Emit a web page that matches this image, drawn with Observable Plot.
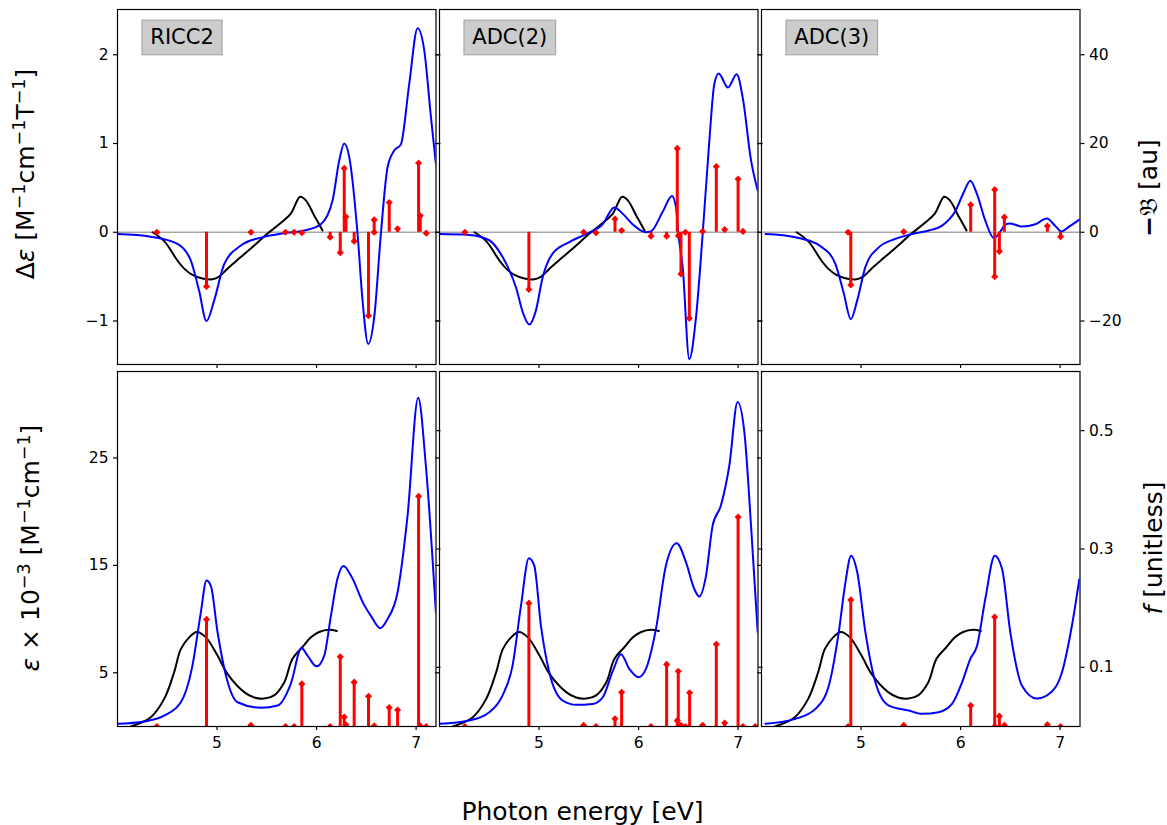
<!DOCTYPE html>
<html><head><meta charset="utf-8">
<script src="https://cdn.jsdelivr.net/npm/d3@7"></script>
<script src="https://cdn.jsdelivr.net/npm/@observablehq/plot@0.6"></script>
<style>
html,body{margin:0;padding:0;background:#fff;}
#fig{position:relative;width:1167px;height:825px;background:#fff;overflow:hidden;font-family:"DejaVu Sans","DejaVu Serif","Noto Sans",sans-serif;color:#000;}
.lab{position:absolute;white-space:nowrap;font-size:25px;line-height:1;}
.rot{transform:translate(-50%,-50%) rotate(-90deg);}
.lab sup{font-size:0.7em;vertical-align:baseline;position:relative;top:-0.5em;}
.lab i{font-family:"DejaVu Sans";font-style:oblique;}
</style></head><body><div id="fig"></div>
<script>
// ---------- axes / ticks ----------
const energyDomain = [4.0, 7.2];
const energyTicks = [5, 6, 7];
const cdDomain = [-1.49, 2.51];
const cdTicks = [-1, 0, 1, 2];
const rotTicks = [-20, 0, 20, 40];
const absDomain = [0, 33.05];
const absTicks = [5, 15, 25];
const oscTicks = [0.1, 0.3, 0.5];
const rotPerCD = 20;            // -B [au] per unit of Δε (twin axis ratio)
const oscPerAbs = 0.6 / 33.05;  // f per unit of ε×10^-3 (twin axis ratio)
const methods = ["RICC2", "ADC(2)", "ADC(3)"];

// ---------- experimental spectra (same in every panel) ----------
const expCD = [[4.352,0],[4.469,-0.10],[4.603,-0.32],[4.670,-0.41],[4.753,-0.48],[4.853,-0.52],[4.954,-0.53],[5.021,-0.50],[5.105,-0.41],[5.239,-0.28],[5.373,-0.15],[5.490,-0.03],[5.624,0.09],[5.741,0.21],[5.835,0.40],[5.892,0.36],[5.976,0.19],[6.060,0.02]];
const expAbs = [[4.134,0],[4.335,0.87],[4.469,2.57],[4.569,5.05],[4.636,7.2],[4.720,8.3],[4.797,8.8],[4.888,8.3],[5.005,6.6],[5.105,4.9],[5.273,3.2],[5.373,2.7],[5.474,2.6],[5.574,2.9],[5.675,4.1],[5.758,6.3],[5.859,7.4],[5.943,8.3],[6.026,8.8],[6.127,9.0],[6.204,8.9]];

// ---------- RICC2 ----------
const ricc2CD = [[4.0,-0.02],[4.335,-0.05],[4.603,-0.13],[4.737,-0.32],[4.820,-0.66],[4.894,-1.0],[4.971,-0.77],[5.072,-0.36],[5.239,-0.15],[5.440,-0.06],[5.675,-0.01],[5.876,0.02],[6.043,0.09],[6.161,0.36],[6.228,0.81],[6.278,1.0],[6.328,0.85],[6.412,-0.02],[6.462,-0.77],[6.519,-1.26],[6.579,-0.96],[6.646,-0.02],[6.713,0.73],[6.780,0.92],[6.847,0.99],[6.931,1.67],[7.015,2.30],[7.082,2.05],[7.149,1.30],[7.199,0.77]];
const ricc2Abs = [[4.0,0.25],[4.268,0.47],[4.469,1.02],[4.636,2.26],[4.753,5.67],[4.837,10.6],[4.894,13.6],[4.938,13.1],[5.005,8.8],[5.088,4.8],[5.206,2.26],[5.440,1.74],[5.608,1.95],[5.742,4.0],[5.849,7.3],[5.909,6.6],[6.0,5.6],[6.077,6.6],[6.144,10.3],[6.211,13.8],[6.271,14.95],[6.345,14.05],[6.479,11.3],[6.546,10.3],[6.640,9.15],[6.713,10.0],[6.814,12.5],[6.914,19.6],[7.021,30.6],[7.098,24.3],[7.199,10.6]];
const ricc2Rot = [[4.395,0],[4.894,-12.2],[5.340,0],[5.688,0],[5.775,0],[5.852,-0.1],[6.137,-1.1],[6.238,-4.6],[6.278,14.4],[6.295,3.5],[6.378,-2.0],[6.522,-18.8],[6.579,2.8],[6.579,0],[6.730,6.7],[6.814,0.8],[7.025,15.6],[7.042,3.7],[7.102,-0.2]];
const ricc2Osc = [[4.395,0],[4.894,0.181],[5.340,0.002],[5.688,0],[5.775,0],[5.852,0.072],[6.137,0],[6.238,0.118],[6.278,0.016],[6.295,0.003],[6.378,0.075],[6.522,0.051],[6.579,0.001],[6.730,0.032],[6.814,0.028],[7.025,0.389],[7.042,0.001],[7.102,0]];

// ---------- ADC(2) ----------
const adc2CD = [[4.0,-0.02],[4.299,-0.03],[4.500,-0.09],[4.634,-0.28],[4.768,-0.62],[4.842,-0.92],[4.902,-1.04],[4.969,-0.88],[5.036,-0.51],[5.136,-0.24],[5.304,-0.11],[5.471,-0.02],[5.639,0.09],[5.756,0.28],[5.840,0.21],[5.940,0.09],[6.074,0],[6.125,0.01],[6.242,0.23],[6.336,0.41],[6.376,0.28],[6.400,-0.02],[6.443,-0.39],[6.510,-1.43],[6.577,-0.96],[6.644,-0.02],[6.711,1.03],[6.761,1.67],[6.805,1.79],[6.898,1.63],[6.986,1.78],[7.046,1.52],[7.130,0.81],[7.197,0.47]];
const adc2Abs = [[4.0,0.25],[4.299,0.56],[4.500,1.33],[4.634,2.9],[4.734,5.67],[4.818,11.2],[4.898,15.66],[4.952,14.98],[5.019,9.4],[5.103,5.05],[5.237,2.42],[5.371,2.02],[5.538,2.1],[5.639,2.7],[5.739,5.1],[5.823,6.73],[5.907,5.36],[6.001,4.59],[6.074,5.36],[6.175,9.09],[6.275,14.98],[6.383,17.05],[6.476,15.3],[6.560,12.8],[6.610,12.1],[6.677,14.0],[6.744,18.7],[6.828,20.6],[6.912,24.3],[6.995,30.2],[7.063,27.4],[7.130,18.7],[7.197,8.8]];
const adc2Rot = [[4.255,0],[4.898,-12.9],[5.448,0],[5.572,-0.1],[5.763,3.0],[5.830,0.4],[6.125,-0.9],[6.282,-0.9],[6.389,18.9],[6.399,-0.8],[6.426,-9.4],[6.470,0],[6.510,-19.4],[6.644,0.2],[6.781,14.8],[6.865,0.6],[7.000,12.0],[7.049,0.2]];
const adc2Osc = [[4.255,0],[4.898,0.2085],[5.448,0.002],[5.572,0],[5.763,0.013],[5.830,0.058],[6.125,0],[6.282,0.105],[6.389,0.010],[6.399,0.0935],[6.426,0.002],[6.470,0],[6.513,0.057],[6.644,0.002],[6.781,0.139],[6.865,0.006],[7.000,0.354],[7.049,0],[7.173,0]];

// ---------- ADC(3) ----------
const adc3CD = [[4.04,-0.02],[4.341,-0.056],[4.609,-0.17],[4.743,-0.36],[4.827,-0.69],[4.897,-0.98],[4.961,-0.77],[5.044,-0.39],[5.178,-0.17],[5.345,-0.075],[5.513,-0.02],[5.680,0.02],[5.814,0.075],[5.948,0.24],[6.032,0.45],[6.098,0.58],[6.165,0.43],[6.249,0.13],[6.333,-0.064],[6.383,-0.02],[6.450,0.087],[6.500,0.10],[6.617,0.064],[6.751,0.09],[6.868,0.154],[6.952,0.07],[7.012,0.01],[7.086,0.06],[7.193,0.143]];
const adc3Abs = [[4.04,0.25],[4.341,0.71],[4.542,1.64],[4.676,3.8],[4.776,8.77],[4.843,13.4],[4.900,15.9],[4.961,14.4],[5.044,8.77],[5.145,4.1],[5.279,1.95],[5.479,1.49],[5.613,1.18],[5.780,1.33],[5.914,2.1],[6.015,4.1],[6.098,6.3],[6.165,7.5],[6.249,11.9],[6.343,15.9],[6.416,14.7],[6.500,8.77],[6.617,3.8],[6.768,2.6],[6.885,3.0],[7.019,5.05],[7.119,9.4],[7.193,13.7]];
const adc3Rot = [[4.870,0],[4.897,-11.9],[5.429,0.1],[6.102,6.2],[6.343,9.6],[6.343,-10.0],[6.390,-4.3],[6.440,3.4],[6.872,1.4],[7.005,-1.0]];
const adc3Osc = [[4.870,0],[4.897,0.214],[5.429,0.002],[6.102,0.0355],[6.343,0.185],[6.343,0],[6.390,0.0175],[6.440,0.002],[6.872,0.003],[7.005,0]];

const calcCD = [ricc2CD, adc2CD, adc3CD];
const calcAbs = [ricc2Abs, adc2Abs, adc3Abs];
const sticksRot = [ricc2Rot, adc2Rot, adc3Rot];
const sticksOsc = [ricc2Osc, adc2Osc, adc3Osc];

// ---------- layout ----------
const panelLeft = [116.5, 438.7, 761];
const panelWidth = 318.5;
const rowTop = [9, 371];
const panelHeight = 355;
const ML = 60, MR = 60, MT = 10, MB = 30;

const fig = document.getElementById("fig");
const fmtNum = v => String(v).replace("-", "\u2212");

function makePanel(row, col) {
  const top = row === 0;
  const sticks = top ? sticksRot[col] : sticksOsc[col];
  const stickY = d => top ? d[1] / rotPerCD : d[1] / oscPerAbs;
  const marks = [];
  if (top) marks.push(Plot.ruleY([0], {stroke: "#a6a6a6", strokeWidth: 1.5}));
  marks.push(Plot.line(top ? expCD : expAbs, {x: d => d[0], y: d => d[1], stroke: "black", strokeWidth: 2, curve: "catmull-rom", clip: true}));
  marks.push(Plot.line(top ? calcCD[col] : calcAbs[col], {x: d => d[0], y: d => d[1], stroke: "#0000ff", strokeWidth: 2, curve: "monotone-x", clip: true}));
  marks.push(Plot.ruleX(sticks, {x: d => d[0], y1: 0, y2: stickY, stroke: "#ff0000", strokeWidth: 3, clip: true}));
  marks.push(Plot.dot(sticks, {x: d => d[0], y: stickY, symbol: "diamond2", r: 3.2, fill: "#ff0000", stroke: "none", clip: true}));
  marks.push(Plot.frame({stroke: "black", strokeWidth: 1.2}));
  marks.push(Plot.axisX({anchor: "bottom", ticks: energyTicks, tickSize: 4, tickPadding: 6.5,
    tickFormat: row === 1 ? (d => String(d)) : (() => ""), label: null, strokeWidth: 1.2}));
  marks.push(Plot.axisY({anchor: "left", ticks: top ? cdTicks : absTicks, tickSize: 4, tickPadding: 5,
    tickFormat: col === 0 ? fmtNum : (() => ""), label: null, strokeWidth: 1.2}));
  const rTicks = top ? rotTicks.map(v => v / rotPerCD) : oscTicks.map(v => v / oscPerAbs);
  marks.push(Plot.axisY({anchor: "right", ticks: rTicks, tickSize: 4, tickPadding: 5,
    tickFormat: col === 2 ? (top ? (d => fmtNum(Math.round(d * rotPerCD))) : (d => (d * oscPerAbs).toFixed(1))) : (() => ""),
    label: null, strokeWidth: 1.2}));
  if (top) {
    marks.push(Plot.text([methods[col]], {frameAnchor: "top-left", dx: 32.8, dy: 27.5, text: d => d,
      textAnchor: "start", lineAnchor: "middle", fontSize: 21, fill: "black"}));
  }
  const svg = Plot.plot({
    width: ML + panelWidth + MR,
    height: MT + panelHeight + MB,
    marginLeft: ML, marginRight: MR, marginTop: MT, marginBottom: MB,
    x: {domain: energyDomain, label: null},
    y: {domain: top ? cdDomain : absDomain, label: null},
    style: {background: "transparent", overflow: "visible", fontFamily: "DejaVu Sans", fontSize: "15.5px", color: "black",
      position: "absolute", left: (panelLeft[col] - ML) + "px", top: (rowTop[row] - MT) + "px", maxWidth: "none"},
    marks
  });
  fig.appendChild(svg);
  if (top) {
    const t = Array.from(svg.querySelectorAll("text")).find(e => e.textContent === methods[col]);
    if (t) {
      const bb = t.getBBox();
      const rect = document.createElementNS("http://www.w3.org/2000/svg", "rect");
      rect.setAttribute("x", bb.x - 8.3);
      rect.setAttribute("y", bb.y - 4.5);
      rect.setAttribute("width", bb.width + 16.6);
      rect.setAttribute("height", bb.height + 10.5);
      rect.setAttribute("fill", "#cccccc");
      rect.setAttribute("stroke", "#a8a8a8");
      rect.setAttribute("stroke-width", "1.2");
      const tr = t.getAttribute("transform");
      if (tr) rect.setAttribute("transform", tr);
      t.parentNode.insertBefore(rect, t);
    }
  }
}

for (let r = 0; r < 2; r++) for (let c = 0; c < 3; c++) makePanel(r, c);

// ---------- axis titles ----------
function addLabel(html, cx, cy, rotate) {
  const d = document.createElement("div");
  d.className = "lab" + (rotate ? " rot" : "");
  d.innerHTML = html;
  d.style.left = cx + "px";
  d.style.top = cy + "px";
  if (!rotate) d.style.transform = "translate(-50%,-50%)";
  fig.appendChild(d);
}
addLabel("\u0394<i>\u03b5</i> [M<sup>\u22121</sup>cm<sup>\u22121</sup>T<sup>\u22121</sup>]", 25, 174, true);
addLabel("<i>\u03b5</i> \u00d7 10<sup>\u22123</sup> [M<sup>\u22121</sup>cm<sup>\u22121</sup>]", 30, 548, true);
addLabel("<b>\u2212</b>\ud835\udd05 [au]", 1148, 188, true);
addLabel("<i>f</i> [unitless]", 1153, 548, true);
addLabel("Photon energy [eV]", 582.5, 810.5, false);
</script></body></html>
